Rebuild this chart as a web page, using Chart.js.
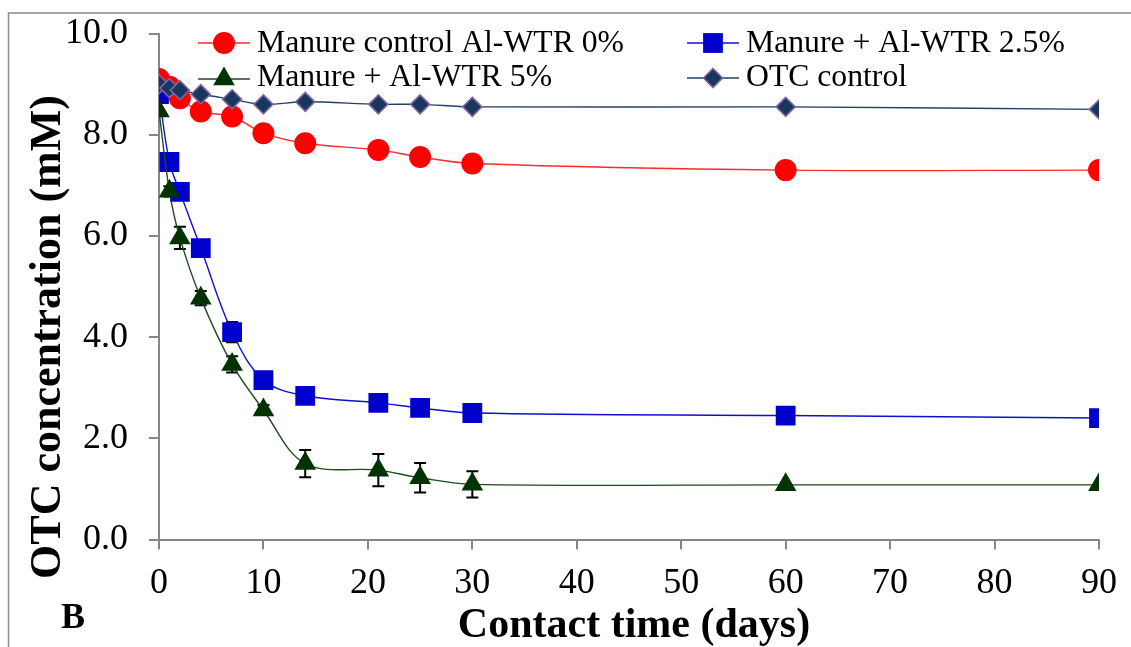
<!DOCTYPE html>
<html>
<head>
<meta charset="utf-8">
<title>OTC concentration vs contact time</title>
<script src="https://cdn.jsdelivr.net/npm/chart.js@4.4.1/dist/chart.umd.min.js"></script>
<style>
  html, body { margin: 0; padding: 0; background: #ffffff; }
  #wrap { width: 1131px; height: 647px; position: relative; }
  canvas { display: block; }
</style>
</head>
<body>
<div id="wrap"><canvas id="chart" width="1131" height="647"></canvas></div>
<script>
// Sampling days
const days = [0, 1, 2, 4, 7, 10, 14, 21, 25, 30, 60, 90];

// OTC concentration (mM) per treatment
const manureControl = [9.10, 8.95, 8.72, 8.46, 8.36, 8.03, 7.83, 7.70, 7.56, 7.43, 7.30, 7.30];
const wtr25        = [8.80, 7.46, 6.87, 5.76, 4.10, 3.15, 2.84, 2.70, 2.60, 2.50, 2.45, 2.40];
const wtr5         = [8.47, 6.88, 5.96, 4.77, 3.46, 2.56, 1.50, 1.37, 1.22, 1.09, 1.08, 1.08];
const otcControl   = [9.00, 8.92, 8.88, 8.80, 8.70, 8.60, 8.65, 8.60, 8.60, 8.55, 8.55, 8.50];

// Standard deviations (error bars)
const wtr25Err = [0, 0, 0, 0, 0.20, 0, 0, 0, 0, 0, 0, 0];
const wtr5Err  = [0, 0.10, 0.22, 0.14, 0.16, 0.10, 0.27, 0.32, 0.29, 0.26, 0, 0];

// Series names
const seriesNames = [
  'Manure control Al-WTR 0%',
  'Manure + Al-WTR 2.5%',
  'Manure + Al-WTR 5%',
  'OTC control'
];

// Axis titles, ranges and tick steps
const xTitle = 'Contact time (days)';
const yTitle = 'OTC concentration (mM)';
const xRange = [0, 90];
const xStep = 10;
const yRange = [0, 10];
const yStep = 2;

const SERIF = "'Liberation Serif', 'Times New Roman', serif";
const AXIS_GREY = '#878787';

function pts(vals) { return days.map((d, i) => ({ x: d, y: vals[i] })); }

const styles = [
  { line: '#ff2a2a', fill: '#ff0000', stroke: '#ff0000', shape: 'circle', r: 11, bw: 0 },
  { line: '#1010cc', fill: '#0000cc', stroke: '#0000cc', shape: 'rect', r: 14, bw: 0 },
  { line: '#1e4a1e', fill: '#003300', stroke: '#003300', shape: 'triangle', r: 12.5, bw: 0 },
  { line: '#243f66', fill: '#17375e', stroke: '#8064a2', shape: 'rectRot', r: 9.5, bw: 1.6 }
];
const seriesValues = [manureControl, wtr25, wtr5, otcControl];
const drawOrder = [3, 2, 0, 1];

const datasets = seriesValues.map((vals, k) => ({
  label: seriesNames[k],
  data: pts(vals),
  showLine: true,
  borderColor: styles[k].line,
  borderWidth: 1.4,
  tension: 0.35,
  pointStyle: styles[k].shape,
  pointRadius: styles[k].r,
  pointHoverRadius: styles[k].r,
  pointBackgroundColor: styles[k].fill,
  pointBorderColor: styles[k].stroke,
  pointBorderWidth: styles[k].bw,
  order: drawOrder[k]
}));

// Frame around the whole figure
const framePlugin = {
  id: 'frame',
  beforeDraw(chart) {
    const ctx = chart.ctx;
    ctx.save();
    ctx.strokeStyle = '#8a8a8a';
    ctx.lineWidth = 1.5;
    ctx.strokeRect(8.5, 13, 1200, 700);
    ctx.restore();
  }
};

// Vertical error bars for the series that carry SD values
const errorBars = [
  { dataset: 1, errs: wtr25Err },
  { dataset: 2, errs: wtr5Err }
];
const errorBarPlugin = {
  id: 'errorBars',
  beforeDatasetsDraw(chart) {
    const { ctx, scales: { x, y } } = chart;
    ctx.save();
    ctx.strokeStyle = '#000000';
    ctx.lineWidth = 2;
    errorBars.forEach(eb => {
      const vals = seriesValues[eb.dataset];
      eb.errs.forEach((e, i) => {
        if (!e) return;
        const px = x.getPixelForValue(days[i]);
        const top = y.getPixelForValue(vals[i] + e);
        const bot = y.getPixelForValue(vals[i] - e);
        ctx.beginPath();
        ctx.moveTo(px, top); ctx.lineTo(px, bot);
        ctx.moveTo(px - 6, top); ctx.lineTo(px + 6, top);
        ctx.moveTo(px - 6, bot); ctx.lineTo(px + 6, bot);
        ctx.stroke();
      });
    });
    ctx.restore();
  }
};

function drawMarker(ctx, st, cx, cy) {
  ctx.save();
  ctx.fillStyle = st.fill;
  ctx.strokeStyle = st.stroke;
  ctx.lineWidth = st.bw;
  ctx.beginPath();
  const r = st.r;
  if (st.shape === 'circle') {
    ctx.arc(cx, cy, r, 0, Math.PI * 2);
  } else if (st.shape === 'rect') {
    const s = Math.SQRT1_2 * r;
    ctx.rect(cx - s, cy - s, 2 * s, 2 * s);
  } else if (st.shape === 'triangle') {
    ctx.moveTo(cx, cy - r);
    ctx.lineTo(cx + Math.sin(2 * Math.PI / 3) * r, cy + r / 2);
    ctx.lineTo(cx - Math.sin(2 * Math.PI / 3) * r, cy + r / 2);
    ctx.closePath();
  } else {
    ctx.moveTo(cx, cy - r);
    ctx.lineTo(cx + r, cy);
    ctx.lineTo(cx, cy + r);
    ctx.lineTo(cx - r, cy);
    ctx.closePath();
  }
  ctx.fill();
  if (st.bw > 0) ctx.stroke();
  ctx.restore();
}

// Two-column legend inside the plot, axis titles and the panel letter
const legendLayout = [
  { series: 0, x: 198, y: 43, base: 52 },
  { series: 1, x: 687, y: 43, base: 52 },
  { series: 2, x: 198, y: 79, base: 86 },
  { series: 3, x: 687, y: 78, base: 86 }
];
const annotationPlugin = {
  id: 'annotations',
  afterDraw(chart) {
    const ctx = chart.ctx;
    ctx.save();
    legendLayout.forEach(item => {
      const st = styles[item.series];
      ctx.strokeStyle = st.line;
      ctx.lineWidth = 1.4;
      ctx.beginPath();
      ctx.moveTo(item.x, item.y);
      ctx.lineTo(item.x + 52, item.y);
      ctx.stroke();
      drawMarker(ctx, st, item.x + 26, item.y);
      ctx.fillStyle = '#000000';
      ctx.font = "31.7px " + SERIF;
      ctx.textAlign = 'left';
      ctx.textBaseline = 'alphabetic';
      ctx.fillText(seriesNames[item.series], item.x + 59, item.base);
    });

    ctx.fillStyle = '#000000';
    ctx.textBaseline = 'alphabetic';

    // x-axis title
    ctx.font = "bold 42px " + SERIF;
    ctx.textAlign = 'center';
    ctx.fillText(xTitle, 634, 637);

    // y-axis title
    ctx.save();
    ctx.translate(60, 337);
    ctx.rotate(-Math.PI / 2);
    ctx.font = "bold 44px " + SERIF;
    ctx.textAlign = 'center';
    ctx.fillText(yTitle, 0, 0);
    ctx.restore();

    // panel letter
    ctx.font = "bold 36px " + SERIF;
    ctx.textAlign = 'left';
    ctx.fillText('B', 61, 628);
    ctx.restore();
  }
};

new Chart(document.getElementById('chart'), {
  type: 'scatter',
  data: { datasets },
  options: {
    responsive: false,
    devicePixelRatio: 1,
    animation: false,
    events: [],
    layout: { padding: { left: 0, top: 33.5, right: 32, bottom: 0 } },
    plugins: { legend: { display: false }, tooltip: { enabled: false } },
    scales: {
      x: {
        type: 'linear',
        min: xRange[0], max: xRange[1],
        ticks: {
          stepSize: xStep,
          color: '#000000',
          font: { family: SERIF, size: 36 },
          padding: 12,
          maxRotation: 0
        },
        grid: { drawOnChartArea: false, drawTicks: true, tickLength: 10, color: AXIS_GREY, lineWidth: 2 },
        border: { display: true, color: AXIS_GREY, width: 2 },
        title: { display: false },
        afterFit(scale) {
          scale.height = 107.5;
          scale.paddingLeft = 0;
          scale.paddingRight = 0;
        }
      },
      y: {
        type: 'linear',
        min: yRange[0], max: yRange[1],
        ticks: {
          stepSize: yStep,
          color: '#000000',
          font: { family: SERIF, size: 36 },
          padding: 21,
          callback: v => Number(v).toFixed(1)
        },
        grid: { drawOnChartArea: false, drawTicks: true, tickLength: 10, color: AXIS_GREY, lineWidth: 2 },
        border: { display: true, color: AXIS_GREY, width: 2 },
        title: { display: false },
        afterFit(scale) {
          scale.width = 159;
          scale.paddingTop = 0;
          scale.paddingBottom = 0;
        }
      }
    }
  },
  plugins: [framePlugin, errorBarPlugin, annotationPlugin]
});
</script>
</body>
</html>
